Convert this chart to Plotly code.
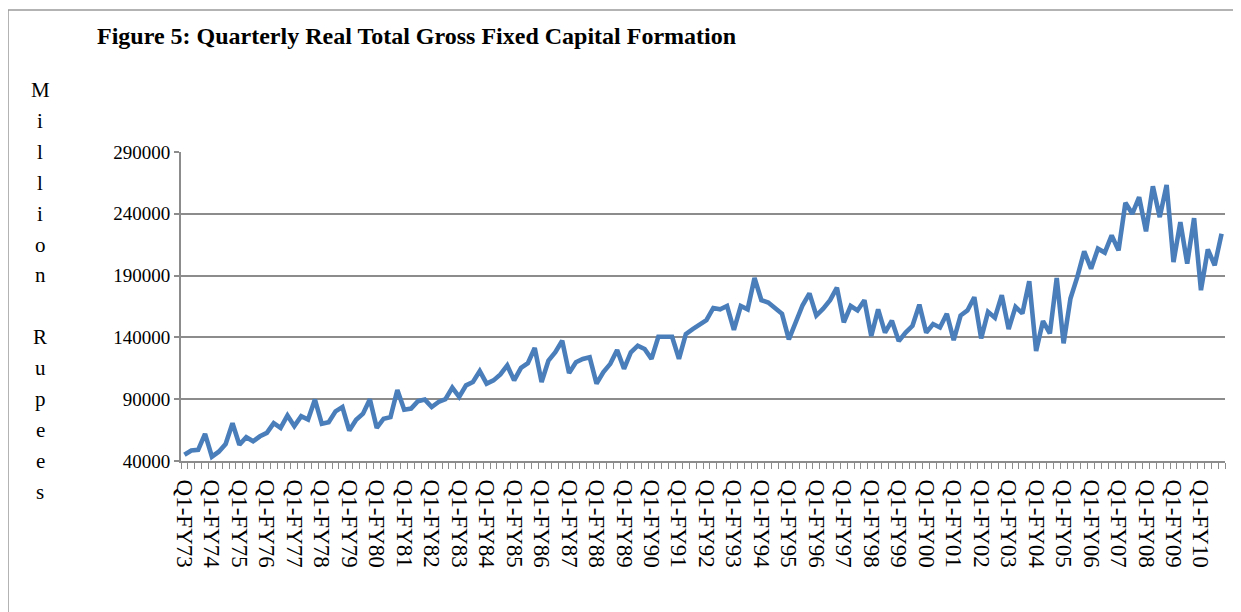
import plotly.graph_objects as go

fiscal_years = ["73", "74", "75", "76", "77", "78", "79", "80", "81", "82",
                "83", "84", "85", "86", "87", "88", "89", "90", "91", "92",
                "93", "94", "95", "96", "97", "98", "99", "00", "01", "02",
                "03", "04", "05", "06", "07", "08", "09", "10"]
quarters = [f"Q{q}-FY{y}" for y in fiscal_years for q in (1, 2, 3, 4)]

tick_labels = ["Q1-FY73", "Q1-FY74", "Q1-FY75", "Q1-FY76", "Q1-FY77", "Q1-FY78",
               "Q1-FY79", "Q1-FY80", "Q1-FY81", "Q1-FY82", "Q1-FY83", "Q1-FY84",
               "Q1-FY85", "Q1-FY86", "Q1-FY87", "Q1-FY88", "Q1-FY89", "Q1-FY90",
               "Q1-FY91", "Q1-FY92", "Q1-FY93", "Q1-FY94", "Q1-FY95", "Q1-FY96",
               "Q1-FY97", "Q1-FY98", "Q1-FY99", "Q1-FY00", "Q1-FY01", "Q1-FY02",
               "Q1-FY03", "Q1-FY04", "Q1-FY05", "Q1-FY06", "Q1-FY07", "Q1-FY08",
               "Q1-FY09", "Q1-FY10"]

gfcf = [45000, 48500, 49000, 62000, 43500, 47500, 53700, 70600, 53100, 59200,
        55900, 60000, 62700, 70600, 66800, 76900, 68200, 76300, 73600, 89700,
        70100, 71400, 80200, 83700, 64600, 73300, 78300, 90000, 66800, 74200,
        75500, 97400, 81500, 82400, 88400, 89700, 83700, 87800, 90000, 99400,
        91900, 101200, 103900, 112700, 102600, 105200, 110000, 117300, 105200, 115400,
        119100, 131400, 103900, 121300, 128000, 137300, 111100, 119900, 122600, 124000,
        102600, 111900, 118600, 129800, 114600, 128000, 133300, 130600, 122600, 140500,
        140500, 140500, 122600, 142700, 146700, 150700, 153900, 163800, 162700, 165400,
        146100, 165400, 162700, 188100, 170100, 168200, 163800, 159100, 138400, 153500,
        166000, 175600, 157700, 163200, 170100, 180300, 152200, 165400, 161800, 170100,
        141100, 162700, 143900, 153500, 137000, 143900, 149400, 166500, 143900, 150800,
        148000, 159100, 137800, 157700, 161800, 172500, 139200, 160700, 155900, 174100,
        146700, 164700, 159400, 185400, 129000, 153200, 143200, 188100, 135200, 171500,
        188900, 209600, 195600, 211800, 208600, 222500, 210400, 248900, 240000, 253400,
        225800, 262300, 237300, 263400, 201000, 233300, 199700, 236500, 178200, 211200,
        198300, 223900]

y_ticks = [40000, 90000, 140000, 190000, 240000, 290000]
axis_letters = ["M", "i", "l", "l", "i", "o", "n", "", "R", "u", "p", "e", "e", "s"]

FONT = "Liberation Serif, Times New Roman, serif"
GRAY = "#8c8c8c"

fig = go.Figure()
fig.add_trace(go.Scatter(
    x=quarters, y=gfcf, mode="lines",
    line=dict(color="#4a7ebb", width=4.6),
    showlegend=False, hoverinfo="x+y"))

# page offset (body margin) and plot area geometry in page pixels
OFF = 8
W, H = 1241 - OFF, 612 - OFF
PL, PR, PT, PB = 181, 1225, 152, 461
L, R, T, B = PL - OFF, W - (PR - OFF), PT - OFF, H - (PB - OFF)
pw, ph = W - L - R, H - T - B

def px_x(p):
    return (p - OFF - L) / pw

def px_y(p):
    return (H - B - (p - OFF)) / ph

annotations = [dict(
    text="<b>Figure 5: Quarterly Real Total Gross Fixed Capital Formation</b>",
    xref="paper", yref="paper", x=px_x(95), y=px_y(36),
    xanchor="left", yanchor="middle", showarrow=False,
    font=dict(family=FONT, size=24, color="black"))]

for k, ch in enumerate(axis_letters):
    if not ch:
        continue
    annotations.append(dict(
        text=ch, xref="paper", yref="paper",
        x=px_x(40), y=px_y(90 + 30.9 * k),
        xanchor="center", yanchor="middle", showarrow=False,
        font=dict(family=FONT, size=21, color="black")))

fig.update_layout(
    width=W, height=H,
    margin=dict(l=L, r=R, t=T, b=B, autoexpand=False),
    paper_bgcolor="white", plot_bgcolor="white",
    font=dict(family=FONT, color="black"),
    annotations=annotations,
    shapes=[dict(type="rect", xref="paper", yref="paper",
                 x0=px_x(8), x1=px_x(1236), y0=px_y(640), y1=px_y(10),
                 line=dict(color="#9a9a9a", width=1.5), layer="below")],
    xaxis=dict(
        type="category",
        range=[-0.5, len(quarters) - 0.5],
        tickmode="array",
        tickvals=quarters,
        ticktext=[q if q in tick_labels else "" for q in quarters],
        tickson="boundaries",
        ticks="outside", ticklen=6, tickcolor=GRAY, tickwidth=1,
        tickangle=90,
        tickfont=dict(family=FONT, size=23, color="black"),
        ticklabelstandoff=12,
        showline=True, linecolor=GRAY, linewidth=2,
        showgrid=False, zeroline=False, automargin=False),
    yaxis=dict(
        range=[40000, 290000],
        tickmode="array", tickvals=y_ticks,
        ticktext=[str(v) for v in y_ticks],
        ticks="outside", ticklen=5, tickcolor=GRAY, tickwidth=1.5,
        tickfont=dict(family=FONT, size=19, color="black"),
        showline=True, linecolor=GRAY, linewidth=2,
        showgrid=True, gridcolor=GRAY, gridwidth=1.5,
        zeroline=False, automargin=False),
)

fig.write_html("out.html")
